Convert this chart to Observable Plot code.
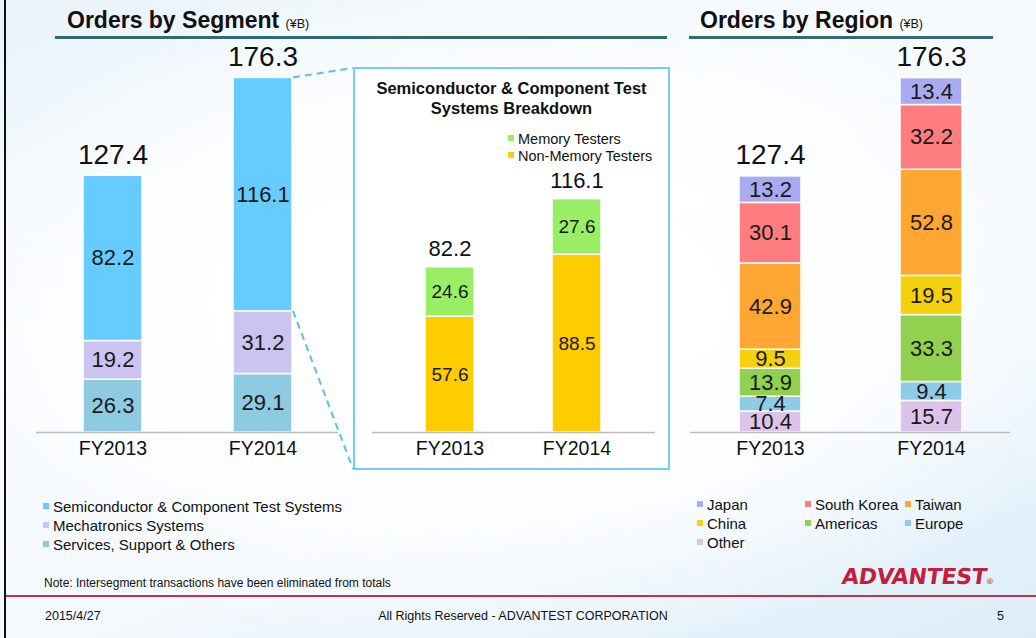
<!DOCTYPE html>
<html>
<head>
<meta charset="utf-8">
<script src="https://cdn.jsdelivr.net/npm/d3@7"></script>
<script src="https://cdn.jsdelivr.net/npm/@observablehq/plot@0.6"></script>
<style>
  html, body { margin: 0; padding: 0; }
  #page {
    position: relative; width: 1036px; height: 638px; overflow: hidden;
    font-family: "Liberation Sans", Arial, sans-serif; color: #111;
    background:
      radial-gradient(ellipse 60% 55% at 48% 48%, rgba(255,255,255,1) 0%, rgba(255,255,255,0.85) 55%, rgba(255,255,255,0) 100%),
      linear-gradient(160deg, #e9f3fa 0%, #f7fbfe 35%, #f4f9fd 65%, #dcedf9 100%);
  }
  .abs { position: absolute; }
  .title { font-weight: bold; font-size: 23px; white-space: nowrap; }
  .title small { font-weight: normal; font-size: 12.5px; }
  .rule { height: 3px; background: #2f6b76; }
  .leg { font-size: 15px; white-space: nowrap; line-height: 19px; }
  .leg .mk { display: inline-block; width: 6px; height: 6px; margin-right: 4px; vertical-align: 3px; }
  svg { overflow: visible; }
</style>
</head>
<body>
<div id="page">
  <div class="abs" style="left:4px;top:0;width:2px;height:638px;background:#111"></div>

  <div class="abs title" style="left:67px;top:7px">Orders by Segment <small>(¥B)</small></div>
  <div class="abs rule" style="left:55px;top:36px;width:612px"></div>
  <div class="abs title" style="left:700px;top:7px">Orders by Region <small>(¥B)</small></div>
  <div class="abs rule" style="left:689px;top:36px;width:304px"></div>

  <div id="box" class="abs" style="left:353px;top:67px;width:313px;height:399px;border:2px solid #74cdf3;background:#fff"></div>
  <div class="abs" style="left:355px;top:78px;width:313px;text-align:center;font-weight:bold;font-size:16.5px;line-height:20px">Semiconductor &amp; Component Test<br>Systems Breakdown</div>
  <div id="legTest" class="abs leg" style="left:508px;top:131px;line-height:17px;font-size:14.5px"></div>

  <div id="segChart" class="abs" style="left:26px;top:40px"></div>
  <div id="testChart" class="abs" style="left:365px;top:40px"></div>
  <div id="regChart" class="abs" style="left:685px;top:40px"></div>
  <svg id="overlay" class="abs" style="left:0;top:0;pointer-events:none" width="1036" height="638"></svg>

  <div id="legSeg" class="abs leg" style="left:43px;top:497px"></div>
  <div id="legReg" class="abs leg" style="left:697px;top:495px"></div>

  <div class="abs" style="left:44px;top:576px;font-size:12px">Note: Intersegment transactions have been eliminated from totals</div>
  <div class="abs" style="left:842px;top:564px;font-family:'DejaVu Sans',sans-serif;font-size:22px;font-weight:bold;color:#c41e3a;letter-spacing:-0.3px;transform:skewX(-8deg)">ADVANTEST<span style="font-size:8px;font-weight:normal;letter-spacing:0">®</span></div>
  <div class="abs" style="left:6px;top:595px;width:1030px;height:2px;background:#c2324c"></div>
  <div class="abs" style="left:45px;top:609px;font-size:12.5px">2015/4/27</div>
  <div class="abs" style="left:318px;top:609px;width:410px;text-align:center;font-size:12.5px">All Rights Reserved - ADVANTEST CORPORATION</div>
  <div class="abs" style="left:997px;top:609px;font-size:12.5px">5</div>
</div>

<script>
// ---------- data ----------
const years = ["FY2013", "FY2014"];

// Orders by Segment (bottom → top)
const segmentNames = ["Services, Support & Others", "Mechatronics Systems", "Semiconductor & Component Test Systems"];
const segmentColors = ["#8fcbe0", "#c9c4f0", "#66ccff"];
const servicesValues = [26.3, 29.1];
const mechatronicsValues = [19.2, 31.2];
const semiconductorValues = [82.2, 116.1];
const segmentTotals = [127.4, 176.3];

// Semiconductor & Component Test Systems breakdown (bottom → top)
const testNames = ["Non-Memory Testers", "Memory Testers"];
const testColors = ["#ffcc00", "#99ee66"];
const nonMemoryValues = [57.6, 88.5];
const memoryValues = [24.6, 27.6];
const testTotals = [82.2, 116.1];

// Orders by Region (bottom → top)
const regionNames = ["Other", "Europe", "Americas", "China", "Taiwan", "South Korea", "Japan"];
const regionColors = ["#dcc3ea", "#8ecbe6", "#92d050", "#f5d00c", "#ffa633", "#ff7c80", "#aaaaf2"];
const otherValues = [10.4, 15.7];
const europeValues = [7.4, 9.4];
const americasValues = [13.9, 33.3];
const chinaValues = [9.5, 19.5];
const taiwanValues = [42.9, 52.8];
const southKoreaValues = [30.1, 32.2];
const japanValues = [13.2, 13.4];
const regionTotals = [127.4, 176.3];

// ---------- helpers ----------
function rows(names, series) {
  const out = [];
  years.forEach((year, i) => names.forEach((cat, j) => out.push({year, cat, value: series[j][i]})));
  return out;
}
const totalsRows = (t) => years.map((year, i) => ({year, total: t[i]}));

const font = '"Liberation Sans", Arial, sans-serif';

function stackChart({data, names, colors, totals, width, marginLeft, marginRight, pi, po, labelSize, totalSize, totalDy}) {
  return Plot.plot({
    width, height: 430,
    marginTop: 0, marginBottom: 38, marginLeft, marginRight,
    style: {fontFamily: font, background: "transparent", color: "#111", overflow: "visible"},
    x: {domain: years, paddingInner: pi, paddingOuter: po, axis: null},
    y: {domain: [0, 195], axis: null},
    color: {domain: names, range: colors},
    marks: [
      Plot.barY(data, {x: "year", y: "value", z: "cat", fill: "cat", order: names, stroke: "white", strokeWidth: 1.5}),
      Plot.text(data, Plot.stackY({x: "year", y: "value", z: "cat", order: names,
        text: d => d.value.toFixed(1), fontSize: labelSize, fill: "#1a1a1a"})),
      Plot.text(totalsRows(totals), {x: "year", y: "total", text: d => d.total.toFixed(1),
        dy: totalDy, fontSize: totalSize, fill: "#111"}),
      Plot.ruleY([0], {stroke: "#bcbcbc", strokeWidth: 1.5}),
      Plot.axisX({tickSize: 0, tickPadding: 9, fontSize: 19.5, fill: "#111", label: null})
    ]
  });
}

// ---------- charts ----------
const segData = rows(segmentNames, [servicesValues, mechatronicsValues, semiconductorValues]);
const segChart = stackChart({data: segData, names: segmentNames, colors: segmentColors, totals: segmentTotals,
  width: 314, marginLeft: 10, marginRight: 2, pi: 0.607, po: 0.31, labelSize: 22, totalSize: 28, totalDy: -21});
document.getElementById("segChart").append(segChart);

const testData = rows(testNames, [nonMemoryValues, memoryValues]);
const testChart = stackChart({data: testData, names: testNames, colors: testColors, totals: testTotals,
  width: 300, marginLeft: 7, marginRight: 10, pi: 0.614, po: 0.42, labelSize: 19, totalSize: 22, totalDy: -18});
document.getElementById("testChart").append(testChart);

const regData = rows(regionNames, [otherValues, europeValues, americasValues, chinaValues, taiwanValues, southKoreaValues, japanValues]);
const regChart = stackChart({data: regData, names: regionNames, colors: regionColors, totals: regionTotals,
  width: 330, marginLeft: 5, marginRight: 5, pi: 0.615, po: 0.30, labelSize: 22, totalSize: 28, totalDy: -21});
document.getElementById("regChart").append(regChart);

// ---------- connector (dashed lines from FY2014 semiconductor segment to the breakdown box) ----------
{
  const left = 26, top = 40;
  const xs = segChart.scale("x"), ys = segChart.scale("y");
  const i = years.indexOf("FY2014");
  const barRight = left + xs.apply("FY2014") + xs.bandwidth;
  const segTop = top + ys.apply(servicesValues[i] + mechatronicsValues[i] + semiconductorValues[i]);
  const segBottom = top + ys.apply(servicesValues[i] + mechatronicsValues[i]);
  const box = document.getElementById("box");
  const bx = box.offsetLeft, by1 = box.offsetTop + 1, by2 = box.offsetTop + box.offsetHeight - 1;
  const ov = d3.select("#overlay");
  [[segTop, by1], [segBottom, by2]].forEach(([y0, y1]) => {
    ov.append("line").attr("x1", barRight + 1).attr("y1", y0).attr("x2", bx).attr("y2", y1)
      .attr("stroke", "#5bbfe8").attr("stroke-width", 2).attr("stroke-dasharray", "7,5");
  });
}

// ---------- legends ----------
function legendItem(name, color) {
  return `<div><span class="mk" style="background:${color}"></span>${name.replace("&", "&amp;")}</div>`;
}
const segColorOf = Object.fromEntries(segmentNames.map((n, i) => [n, segmentColors[i]]));
document.getElementById("legSeg").innerHTML =
  ["Semiconductor & Component Test Systems", "Mechatronics Systems", "Services, Support & Others"]
    .map(n => legendItem(n, segColorOf[n])).join("");

const testColorOf = Object.fromEntries(testNames.map((n, i) => [n, testColors[i]]));
document.getElementById("legTest").innerHTML =
  ["Memory Testers", "Non-Memory Testers"].map(n => legendItem(n, testColorOf[n])).join("");

const regColorOf = Object.fromEntries(regionNames.map((n, i) => [n, regionColors[i]]));
const regLegendRows = [["Japan", "South Korea", "Taiwan"], ["China", "Americas", "Europe"], ["Other"]];
const colX = [0, 108, 208];
document.getElementById("legReg").innerHTML = regLegendRows.map((r, ri) =>
  r.map((n, ci) => `<div style="position:absolute;left:${colX[ci]}px;top:${ri * 19}px">` +
    `<span class="mk" style="background:${regColorOf[n]}"></span>${n}</div>`).join("")).join("");
</script>
</body>
</html>
